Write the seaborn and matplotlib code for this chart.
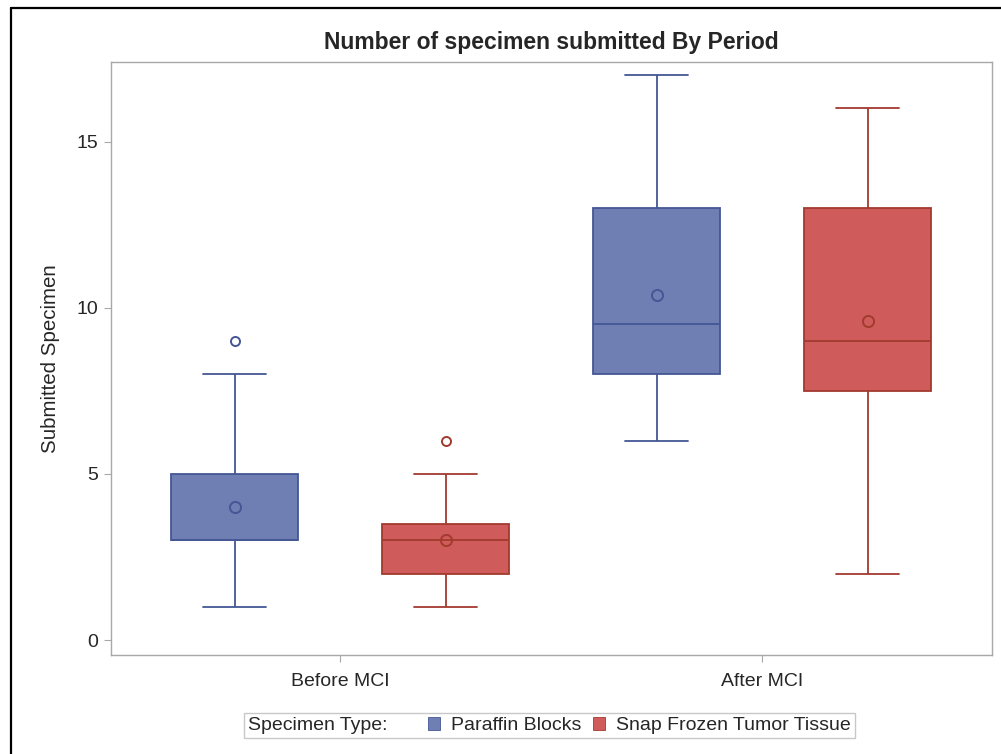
import matplotlib
matplotlib.use("Agg")
import matplotlib.pyplot as plt
import seaborn as sns
import pandas as pd
from matplotlib.patches import Patch
from matplotlib.lines import Line2D
from matplotlib.offsetbox import HPacker

# ---- data ----
periods = ["Before MCI", "After MCI"]
types = ["Paraffin Blocks", "Snap Frozen Tumor Tissue"]
before_paraffin = [1, 1, 3, 3, 3, 3, 5, 8, 9]
before_frozen = [1, 1, 2, 2, 3, 3, 3, 3, 4, 5, 6]
after_paraffin = [6, 7, 8, 8, 9, 10, 13, 13, 13, 17]
after_frozen = [2, 5, 7, 9, 9, 9, 13, 13, 13, 16]
yticks = [0, 5, 10, 15]

fill_colors = {"Paraffin Blocks": "#6F7EB3", "Snap Frozen Tumor Tissue": "#D05B5B"}
line_colors = {"Paraffin Blocks": "#445694", "Snap Frozen Tumor Tissue": "#A23A2E"}

rows = []
for period, typ, vals in [
    (periods[0], types[0], before_paraffin),
    (periods[0], types[1], before_frozen),
    (periods[1], types[0], after_paraffin),
    (periods[1], types[1], after_frozen),
]:
    for v in vals:
        rows.append({"Period": period, "Specimen Type": typ, "Count": v})
df = pd.DataFrame(rows)

sns.set_style("white")
plt.rcParams["font.family"] = ["Liberation Sans", "DejaVu Sans"]

fig = plt.figure(figsize=(10.01, 7.54), dpi=100)
ax = fig.add_axes([0.1109, 0.1313, 0.991 - 0.1109, 0.9178 - 0.1313])

for t in types:
    lc = line_colors[t]
    sns.boxplot(
        data=df[df["Specimen Type"] == t], x="Period", y="Count",
        hue="Specimen Type", hue_order=types, order=periods,
        palette=fill_colors, linecolor=lc, linewidth=1.3,
        width=1.0, gap=0.4, dodge=True, legend=False, saturation=1,
        showmeans=True,
        meanprops=dict(marker="o", markerfacecolor="none", markeredgecolor=lc,
                       markersize=8, markeredgewidth=1.4),
        flierprops=dict(marker="o", markerfacecolor="none", markeredgecolor=lc,
                        markersize=6.5, markeredgewidth=1.4),
        ax=ax,
    )

ax.set_xlim(-0.543, 1.545)
ax.set_ylim(-0.45, 17.4)
ax.set_yticks(yticks)
ax.set_xlabel("")
ax.set_ylabel("Submitted Specimen", fontsize=14.8, labelpad=12)
ax.set_title("Number of specimen submitted By Period", fontsize=16.5,
             fontweight="bold", pad=9)
for s in ax.spines.values():
    s.set_color("#A8A8A8")
    s.set_linewidth(1.0)
ax.tick_params(axis="both", which="both", direction="out", length=5,
               color="#A8A8A8", labelsize=14, pad=4, left=True, bottom=True)
ax.tick_params(axis="x", pad=8)

fs_pt = 14
fs = fs_pt * 100 / 72
handles = [Patch(facecolor=fill_colors[t], edgecolor=line_colors[t], linewidth=0.6) for t in types]
leg = fig.legend(handles, types, loc="lower center", bbox_to_anchor=(0.549, 0.008),
                 ncol=2, frameon=True, fontsize=fs_pt, title="Specimen Type:",
                 title_fontsize=fs_pt, handlelength=0.62, handleheight=0.62,
                 handletextpad=0.55, columnspacing=0.6, borderpad=0.15,
                 fancybox=False)
leg.get_frame().set_edgecolor("#BBBBBB")
leg.get_frame().set_linewidth(1.0)
leg._legend_box = HPacker(pad=leg.borderpad * fs, sep=1.5 * fs, align="center",
                          children=[leg._legend_title_box, leg._legend_handle_box])
leg._legend_box.set_figure(fig)
leg._legend_box.axes = None
leg._legend_box.set_offset(leg._findoffset)

# outer black frame (left and top edges visible in the reference)
fig.add_artist(Line2D([10.5 / 1001, 10.5 / 1001], [0, 1 - 7.5 / 754],
                      transform=fig.transFigure, color="black", lw=1.6))
fig.add_artist(Line2D([10.5 / 1001, 1], [1 - 7.5 / 754, 1 - 7.5 / 754],
                      transform=fig.transFigure, color="black", lw=1.6))

fig.savefig("out.png", dpi=100)
